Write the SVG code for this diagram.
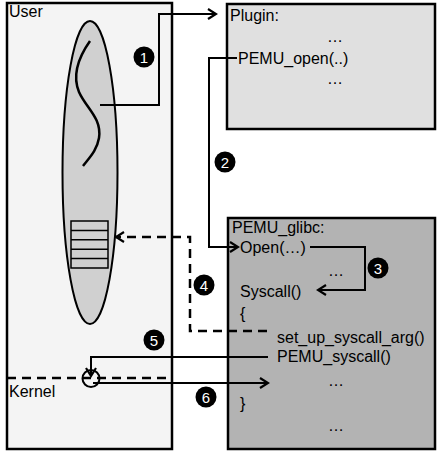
<svg xmlns="http://www.w3.org/2000/svg" width="437" height="455" viewBox="0 0 437 455">
<defs>
<style>
text{font-family:"Liberation Sans",Arial,sans-serif;font-size:16px;fill:#000}
.box{stroke:#000;stroke-width:2.5}
.ln{fill:none;stroke:#000;stroke-width:2}
.dash{fill:none;stroke:#000;stroke-width:2.5;stroke-dasharray:9 6}
.num circle{fill:#000}
.num text{fill:#fff;font-size:15px;text-anchor:middle}
</style>
<marker id="ah" viewBox="0 0 12 12" refX="10" refY="6" markerWidth="12" markerHeight="12" markerUnits="userSpaceOnUse" orient="auto">
<path d="M2 1 L10 6 L2 11" fill="none" stroke="#000" stroke-width="2.2"/>
</marker>
</defs>
<g id="user">
<rect class="box" x="7" y="3" width="165" height="446" fill="#f4f4f4"/>
<text x="9" y="17">User</text>
<text x="9" y="397">Kernel</text>
</g>
<g id="process">
<ellipse cx="90" cy="172.5" rx="27.5" ry="151.5" fill="#d0d0d0" stroke="#000" stroke-width="2"/>
<path d="M90 41 C78 58,72 75,79 92 C86 108,102 118,99 138 C97 150,90 157,83 166" fill="none" stroke="#000" stroke-width="2.5"/>
<rect x="71" y="221" width="37" height="47" fill="#d0d0d0" stroke="#000" stroke-width="1.5"/>
<path d="M71 230.4H108M71 239.8H108M71 249.2H108M71 258.6H108" stroke="#000" stroke-width="1.5"/>
</g>
<g id="plugin">
<rect class="box" x="227" y="4" width="208" height="125" fill="#e0e0e0"/>
<text x="230" y="21">Plugin:</text>
<text x="327" y="42">…</text>
<text x="238" y="64">PEMU_open(..)</text>
<text x="327" y="84">…</text>
</g>
<g id="glibc">
<rect class="box" x="228" y="218" width="207" height="231" fill="#b3b3b3"/>
<text x="232" y="233">PEMU_glibc:</text>
<text x="240" y="253">Open(…)</text>
<text x="328" y="276">…</text>
<text x="240" y="297">Syscall()</text>
<text x="240" y="319">{</text>
<text x="277" y="343">set_up_syscall_arg()</text>
<text x="277" y="362">PEMU_syscall()</text>
<text x="328" y="386">…</text>
<text x="240" y="409">}</text>
<text x="328" y="431">…</text>
</g>
<g id="connectors">
<path class="dash" d="M7 378H172"/>
<circle cx="91" cy="378.5" r="8.5" fill="none" stroke="#000" stroke-width="2"/>
<path class="ln" d="M100 105H159V14H216" marker-end="url(#ah)"/>
<path class="ln" d="M237 58H209V247H238" marker-end="url(#ah)"/>
<path class="ln" d="M310 247H365V290H318" marker-end="url(#ah)"/>
<path class="dash" d="M267 331H190V237H116" marker-end="url(#ah)"/>
<path class="ln" d="M268 357H91V376" marker-end="url(#ah)"/>
<path class="ln" d="M93 383H268" marker-end="url(#ah)"/>
</g>
<g id="labels">
<g class="num"><circle cx="144" cy="57" r="10.5"/><text x="144" y="62.5">1</text></g>
<g class="num"><circle cx="225" cy="162" r="10.5"/><text x="225" y="167.5">2</text></g>
<g class="num"><circle cx="378" cy="268" r="10.5"/><text x="378" y="273.5">3</text></g>
<g class="num"><circle cx="204" cy="285" r="10.5"/><text x="204" y="290.5">4</text></g>
<g class="num"><circle cx="154" cy="340" r="10.5"/><text x="154" y="345.5">5</text></g>
<g class="num"><circle cx="206" cy="397" r="10.5"/><text x="206" y="402.5">6</text></g>
</g>
</svg>
